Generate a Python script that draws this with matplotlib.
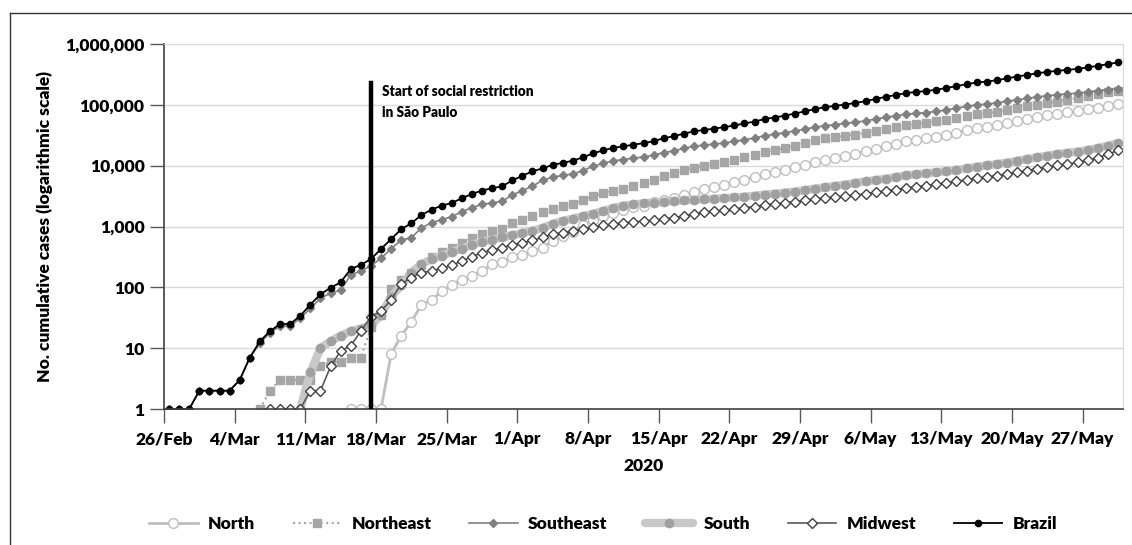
import numpy as np
import pandas as pd
import matplotlib
matplotlib.use("Agg")
import matplotlib.pyplot as plt
from matplotlib.lines import Line2D
from matplotlib.ticker import FixedLocator, NullLocator

plt.rcParams['font.family'] = ['Liberation Sans Narrow', 'Lato', 'DejaVu Sans']
plt.rcParams['font.weight'] = 'heavy'
plt.rcParams['axes.labelweight'] = 'heavy'

dates = pd.date_range('2020-02-26', '2020-05-30', freq='D')
nan = np.nan

# cumulative cases, 26 Feb .. 30 May 2020
brazil = [1, 1, 1, 2,
          2, 2, 2, 3, 7, 13, 19, 25, 25, 34, 52, 77, 98, 121, 200, 234, 291, 428, 621, 904,
          1128, 1546, 1891, 2201, 2433, 2915, 3417, 3904, 4256, 4579, 5717,
          6836, 8044, 9056, 10278, 11130, 12056, 13717, 15927, 17857, 19638, 20727, 22169,
          23430, 25262, 28320, 30425, 33682, 36599, 38654, 40581, 43079, 45757, 49492,
          52995, 58509, 61888, 66501, 71886, 78162, 85380,
          91589, 96559, 101147, 107780, 114715, 125218, 135106, 145328, 155939, 162699,
          168331, 177589, 188974, 202918, 218223, 233142, 241080, 254220, 271628, 291579,
          310087, 330890, 347398, 363211, 374898, 391222, 411821, 438238, 465166, 498440]

southeast = [1, 1, 1, 2,
             2, 2, 2, 3, 7, 12, 18, 23, 23, 31, 45, 66, 80, 90, 160, 185, 225, 300, 430, 600,
             650, 950, 1150, 1300, 1450, 1750, 2050, 2300, 2450, 2600, 3300,
             3900, 4600, 5750, 6500, 6900, 7300, 8300, 9800, 10900, 12000, 12600, 13300,
             13900, 14900, 16400, 17500, 19300, 20800, 21800, 22600, 23700, 25000, 26800,
             28400, 31200, 32800, 34900, 37300, 40000, 43000,
             45500, 47500, 49500, 52000, 54500, 58500, 62500, 66000, 70000, 72500,
             74500, 78000, 82500, 88000, 94000, 100000, 103000, 108000, 114000, 121000,
             128000, 135000, 141000, 147000, 151000, 156000, 163000, 171000, 178000, 184000]

northeast = [nan, nan, nan, nan,
             nan, nan, nan, nan, nan, 1, 2, 3, 3, 3, 3, 5, 6, 6, 7, 7, 22, 35, 94, 133,
             170, 235, 320, 380, 440, 540, 650, 740, 830, 910, 1150,
             1300, 1500, 1740, 1950, 2150, 2350, 2740, 3200, 3500, 3880, 4200, 4700,
             5240, 5900, 6800, 7500, 8500, 9300, 10000, 10700, 11500, 12600, 13900,
             15000, 16800, 18000, 19500, 21200, 23500, 26000,
             28000, 29500, 31000, 32500, 34500, 37500, 40500, 43500, 46500, 48500,
             50500, 53500, 57000, 61000, 65500, 70000, 73000, 77000, 82000, 88000,
             94000, 101000, 107000, 113000, 121000, 129000, 138000, 148000, 160000, 172000]

north = [nan, nan, nan, nan,
         nan, nan, nan, nan, nan, nan, nan, nan, nan, nan, nan, nan, nan, nan, 1, 1, 1, 1, 8, 16,
         27, 52, 62, 86, 111, 134, 155, 184, 240, 260, 310,
         335, 390, 450, 580, 690, 820, 1040, 1300, 1500, 1650, 1900, 2070,
         2200, 2500, 2750, 2900, 3300, 3650, 4100, 4400, 4800, 5300, 5900,
         6500, 7200, 7900, 8600, 9400, 10300, 11300,
         12300, 13300, 14500, 15800, 17200, 19000, 21000, 23000, 25000, 26500,
         28000, 30000, 32500, 35000, 38000, 41000, 43500, 46500, 50000, 54000,
         58000, 62500, 67000, 71000, 75000, 79000, 84000, 90000, 97000, 105000]

south = [nan, nan, nan, nan,
         nan, nan, nan, nan, nan, nan, nan, nan, nan, 1, 4, 10, 13, 16, 19, 21, 24, 35, 70, 108,
         175, 240, 290, 330, 380, 430, 500, 560, 610, 660, 720,
         780, 850, 950, 1100, 1240, 1350, 1480, 1620, 1800, 2000, 2200, 2300,
         2400, 2480, 2560, 2620, 2680, 2740, 2800, 2860, 2920, 3000, 3100,
         3200, 3350, 3450, 3600, 3750, 3950, 4200,
         4400, 4650, 4900, 5200, 5500, 5800, 6100, 6500, 6900, 7200,
         7500, 7800, 8100, 8500, 9000, 9600, 10100, 10600, 11200, 12000,
         12800, 13700, 14600, 15500, 16200, 17000, 18000, 19500, 21200, 23500]

midwest = [nan, nan, nan, nan,
           nan, nan, nan, nan, nan, nan, 1, 1, 1, 1, 2, 2, 5, 9, 11, 19, 33, 41, 62, 114,
           144, 175, 185, 205, 230, 270, 320, 370, 410, 450, 500,
           540, 590, 660, 740, 790, 840, 900, 970, 1040, 1100, 1150, 1190,
           1230, 1260, 1320, 1380, 1500, 1600, 1700, 1780, 1850, 1930, 2030,
           2130, 2250, 2350, 2450, 2550, 2700, 2850,
           2950, 3050, 3150, 3300, 3450, 3650, 3850, 4050, 4300, 4500,
           4700, 4950, 5200, 5500, 5850, 6200, 6500, 6850, 7300, 7800,
           8300, 8900, 9500, 10100, 10600, 11300, 12200, 13600, 15400, 17800]

restriction_day = pd.Timestamp('2020-03-17')
restriction_top = 230000
y_ticks = [1, 10, 100, 1000, 10000, 100000, 1000000]

x = np.arange(len(dates))
fig = plt.figure(figsize=(11.32, 5.45), dpi=100)
ax = fig.add_axes([164 / 1132, 1 - 409 / 545, (1123 - 164) / 1132, (409 - 44) / 545])

ax.plot(x, north, color='#BFBFBF', lw=2, marker='o', ms=7, mfc='white', mec='#BFBFBF', mew=1, label='North')
ax.plot(x, northeast, color='#A6A6A6', lw=1.5, ls=':', marker='s', ms=6, mfc='#A6A6A6', mec='#A6A6A6', label='Northeast')
ax.plot(x, southeast, color='#808080', lw=1.2, marker='D', ms=4, mfc='#808080', mec='#808080', label='Southeast')
ax.plot(x, south, color='#C8C8C8', lw=6, marker='o', ms=6, mfc='#A0A0A0', mec='#A0A0A0', label='South',
        solid_capstyle='round')
ax.plot(x, midwest, color='#595959', lw=1.2, marker='D', ms=5.5, mfc='white', mec='#404040', mew=1, label='Midwest')
ax.plot(x, brazil, color='black', lw=1.3, marker='o', ms=4.5, mfc='black', mec='black', label='Brazil')

xr = dates.get_loc(restriction_day)
ax.plot([xr, xr], [1, restriction_top], color='black', lw=3.2, zorder=10)
ax.text(xr + 1.1, 112000, 'Start of social restriction\nin São Paulo', fontsize=9.8,
        va='center', ha='left', linespacing=1.75)

ax.set_yscale('log')
ax.set_ylim(1, 1000000)
ax.set_xlim(-0.5, len(dates) - 0.5)
ax.yaxis.set_major_locator(FixedLocator(y_ticks))
ax.yaxis.set_minor_locator(NullLocator())
ax.set_yticklabels([f'{v:,}' for v in y_ticks], fontsize=12.5)

tick_idx = list(range(0, len(dates), 7))
ax.set_xticks([i - 0.5 for i in tick_idx])
ax.set_xticklabels([f'{dates[i].day}/{dates[i].strftime("%b")}' for i in tick_idx], fontsize=12.5)
ax.tick_params(axis='both', length=10, width=1, color='#595959', pad=4)
ax.tick_params(axis='x', pad=6)

ax.grid(axis='y', color='#D9D9D9', lw=1)
ax.set_axisbelow(True)
for s in ['top', 'right']:
    ax.spines[s].set_color('#D9D9D9')
for s in ['left', 'bottom']:
    ax.spines[s].set_color('#404040')
    ax.spines[s].set_linewidth(1.2)

ax.set_xlabel('2020', fontsize=12.5, fontweight='heavy', labelpad=8)
ax.set_ylabel('No. cumulative cases (logarithmic scale)', fontsize=12.5, fontweight='heavy', labelpad=9)

ax.legend(loc='upper center', bbox_to_anchor=(0.458, -0.25), ncol=6, frameon=False, fontsize=12.5,
          handlelength=2.8, columnspacing=2.15, handletextpad=0.6)

fig.add_artist(Line2D([10 / 1132, 1], [1 - 13 / 545] * 2, color='#333333', lw=1))
fig.add_artist(Line2D([10 / 1132] * 2, [0, 1 - 13 / 545], color='#333333', lw=1))

fig.savefig('out.png', dpi=100)
